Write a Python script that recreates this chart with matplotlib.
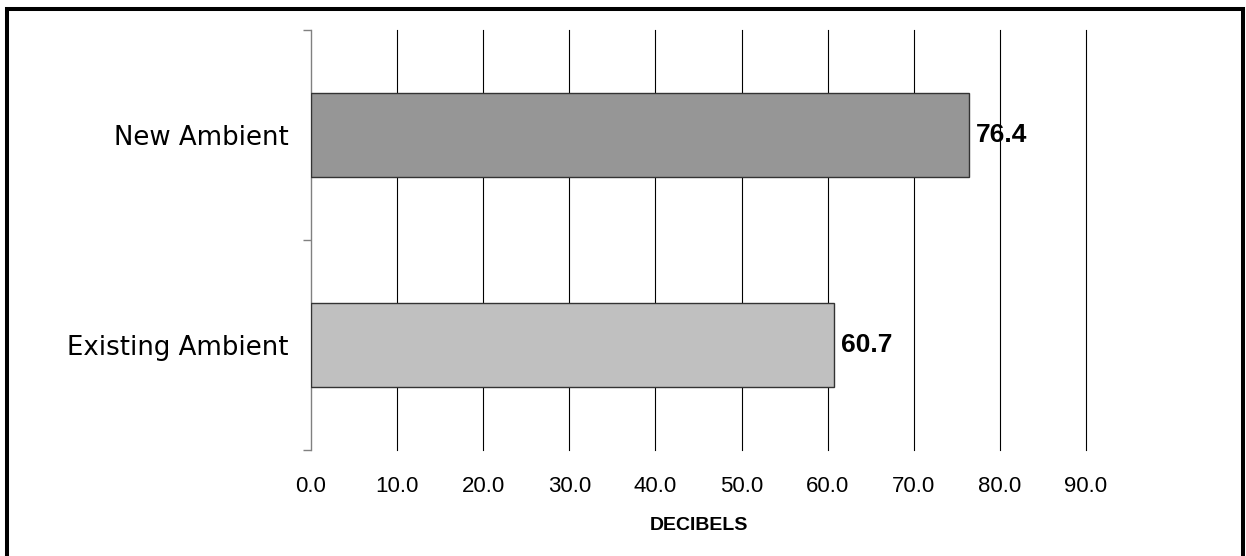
import matplotlib
matplotlib.use("Agg")
import matplotlib.pyplot as plt
import numpy as np
from matplotlib.patches import Rectangle

# Sound levels, bottom to top
categories = ["Existing Ambient", "New Ambient"]
levels = [60.7, 76.4]
bar_colors = ["#c0c0c0", "#969696"]
x_ticks = [0, 10, 20, 30, 40, 50, 60, 70, 80, 90]

fig = plt.figure(figsize=(12.46, 5.56), dpi=100)
ax = fig.add_axes([311 / 1246, 106 / 556, 775 / 1246, 420 / 556])

y = np.arange(len(categories))
bars = ax.barh(y, levels, height=0.4, color=bar_colors,
               edgecolor="#333333", linewidth=1.0, zorder=3)

# Value labels to the right of each bar
for rect, val in zip(bars, levels):
    ax.annotate(f"{val:.1f}", (rect.get_width(), rect.get_y() + rect.get_height() / 2),
                xytext=(5, 0), textcoords="offset points", ha="left", va="center",
                fontsize=19, fontweight="bold", family="Liberation Sans", zorder=4)

ax.set_xlim(0, 90)
ax.set_ylim(-0.5, len(categories) - 0.5)

# Vertical gridlines at every 10 dB
for xv in x_ticks[1:]:
    ax.axvline(xv, color="black", linewidth=0.8, zorder=1, clip_on=False)

ax.set_xticks(x_ticks)
ax.set_xticklabels([f"{v:.1f}" for v in x_ticks], family="Liberation Sans", fontsize=16)
ax.tick_params(axis="x", length=0, pad=19)

# Category ticks at boundaries, labels at bar centres
ax.set_yticks(np.arange(len(categories) + 1) - 0.5)
ax.set_yticklabels([])
ax.set_yticks(y, minor=True)
ax.set_yticklabels(categories, minor=True, family="DejaVu Sans", fontsize=18.7)
ax.tick_params(axis="y", which="major", length=6, width=1, color="#808080", direction="out")
ax.tick_params(axis="y", which="minor", length=0, pad=16)

for side in ["top", "right", "bottom"]:
    ax.spines[side].set_visible(False)
ax.spines["left"].set_color("#808080")
ax.spines["left"].set_linewidth(1.0)

ax.set_xlabel("DECIBELS", family="Liberation Sans", fontsize=14, fontweight="bold", labelpad=14)

# Frame around the figure (open at the bottom edge)
W, H = 1246, 556
fig.patches.append(Rectangle((7 / W, -10 / H), 1236 / W, 557 / H,
                             transform=fig.transFigure, fill=False,
                             edgecolor="black", linewidth=2.9))

fig.savefig("out.png", dpi=100)
